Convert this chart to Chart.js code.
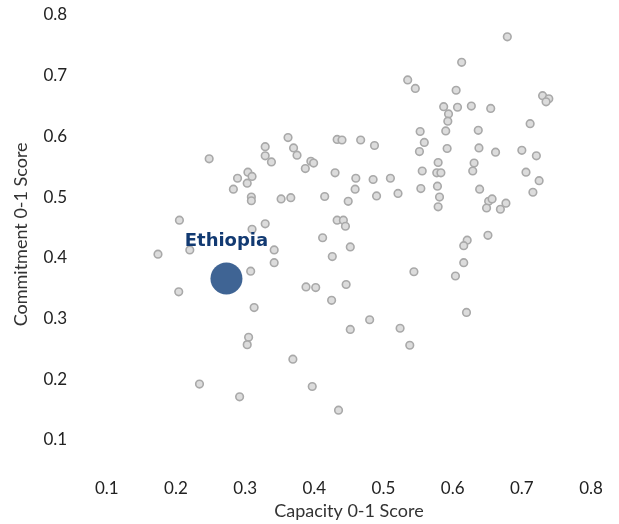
<!DOCTYPE html>
<html>
<head>
<meta charset="utf-8">
<script src="https://cdn.jsdelivr.net/npm/chart.js@4.4.0/dist/chart.umd.min.js"></script>
<style>
  html, body { margin: 0; padding: 0; background: #fff; overflow: hidden; }
  #wrap { position: relative; width: 619px; height: 524px; overflow: hidden; }
  /* the original plot is cropped at the top and right edge */
  #chart { position: absolute; left: 0; top: -45px; }
</style>
</head>
<body>
<div id="wrap"><canvas id="chart" width="660" height="570"></canvas></div>
<script>
// Capacity (x) and commitment (y) scores, one entry per country
var capacity = [
  0.248, 0.329, 0.329, 0.338, 0.362, 0.370, 0.375, 0.387, 0.304, 0.310,
  0.289, 0.303, 0.283, 0.309, 0.309, 0.352, 0.366, 0.205, 0.310, 0.329,
  0.174, 0.220, 0.342, 0.342, 0.308, 0.204, 0.388, 0.313, 0.305, 0.303,
  0.369, 0.234, 0.292, 0.397, 0.426, 0.452, 0.616, 0.544, 0.604, 0.402,
  0.446, 0.425, 0.620, 0.480, 0.452, 0.524, 0.538, 0.435, 0.679, 0.613,
  0.535, 0.546, 0.605, 0.730, 0.739, 0.735, 0.587, 0.607, 0.627, 0.655,
  0.594, 0.593, 0.712, 0.553, 0.590, 0.637, 0.433, 0.440, 0.467, 0.487,
  0.559, 0.552, 0.592, 0.638, 0.662, 0.700, 0.721, 0.395, 0.399, 0.430,
  0.460, 0.459, 0.485, 0.490, 0.510, 0.521, 0.415, 0.449, 0.556, 0.554,
  0.579, 0.577, 0.583, 0.578, 0.581, 0.579, 0.631, 0.629, 0.639, 0.652,
  0.657, 0.649, 0.669, 0.677, 0.706, 0.725, 0.716, 0.433, 0.442, 0.445,
  0.412, 0.621, 0.616, 0.651
];
var commitment = [
  0.563, 0.583, 0.568, 0.558, 0.598, 0.581, 0.569, 0.547, 0.541, 0.534,
  0.531, 0.523, 0.513, 0.500, 0.494, 0.497, 0.499, 0.462, 0.447, 0.456,
  0.406, 0.413, 0.413, 0.392, 0.378, 0.344, 0.352, 0.318, 0.269, 0.257,
  0.233, 0.192, 0.171, 0.188, 0.402, 0.418, 0.392, 0.377, 0.370, 0.351,
  0.356, 0.330, 0.310, 0.298, 0.282, 0.284, 0.256, 0.149, 0.764, 0.722,
  0.693, 0.679, 0.676, 0.667, 0.662, 0.657, 0.649, 0.648, 0.650, 0.646,
  0.637, 0.625, 0.621, 0.608, 0.609, 0.610, 0.595, 0.594, 0.594, 0.585,
  0.590, 0.575, 0.580, 0.581, 0.574, 0.577, 0.568, 0.559, 0.556, 0.540,
  0.531, 0.513, 0.529, 0.502, 0.531, 0.506, 0.501, 0.493, 0.543, 0.514,
  0.557, 0.540, 0.540, 0.518, 0.500, 0.484, 0.556, 0.543, 0.513, 0.493,
  0.497, 0.482, 0.480, 0.490, 0.541, 0.527, 0.508, 0.462, 0.462, 0.452,
  0.433, 0.429, 0.420, 0.437
];

// Highlighted country
var focusName = 'Ethiopia';
var focusCapacity = 0.273;
var focusCommitment = 0.366;

// Tick labels on both axes
var xTicks = [0.1, 0.2, 0.3, 0.4, 0.5, 0.6, 0.7, 0.8];
var yTicks = [0.1, 0.2, 0.3, 0.4, 0.5, 0.6, 0.7, 0.8];

var countryPoints = capacity.map(function(c, i) {
    return { x: c, y: commitment[i] };
});

// Draws the country name above the highlighted point
var focusLabel = {
    id: 'focusLabel',
    afterDatasetsDraw: function(chart) {
        var pt = chart.getDatasetMeta(0).data[0];
        var ctx = chart.ctx;
        ctx.save();
        ctx.font = 'bold 18px "DejaVu Sans"';
        ctx.fillStyle = '#123a72';
        ctx.textAlign = 'center';
        ctx.textBaseline = 'alphabetic';
        ctx.fillText(focusName, pt.x, pt.y - 32);
        ctx.restore();
    }
};

var tickFont = { family: 'Lato', size: 17 };
var titleFont = { family: 'Lato', size: 18 };

new Chart(document.getElementById('chart'), {
    type: 'scatter',
    data: {
        datasets: [
            {
                label: focusName,
                data: [{ x: focusCapacity, y: focusCommitment }],
                backgroundColor: '#3f6494',
                borderWidth: 0,
                pointRadius: 16
            },
            {
                label: 'Countries',
                data: countryPoints,
                backgroundColor: '#dcdcdc',
                borderColor: '#a9a9a9',
                borderWidth: 1.6,
                pointRadius: 3.8
            }
        ]
    },
    options: {
        responsive: false,
        animation: false,
        layout: { padding: { top: 29.6, right: 34.4, left: 0, bottom: 0 } },
        plugins: {
            legend: { display: false },
            tooltip: { enabled: false }
        },
        scales: {
            x: {
                type: 'linear',
                min: 0.05,
                max: 0.85,
                afterBuildTicks: function(s) {
                    s.ticks = xTicks.map(function(v) { return { value: v }; });
                },
                afterFit: function(s) { s.height = 54.7; },
                grid: { display: false, drawTicks: false },
                border: { display: false },
                ticks: {
                    autoSkip: false,
                    maxRotation: 0,
                    padding: 8,
                    color: '#222',
                    font: tickFont,
                    callback: function(v) { return v.toFixed(1); }
                },
                title: {
                    display: true,
                    text: 'Capacity 0-1 Score',
                    color: '#333',
                    font: titleFont,
                    padding: { top: 0, bottom: 3 }
                }
            },
            y: {
                type: 'linear',
                min: 0.05,
                max: 0.85,
                afterBuildTicks: function(s) {
                    s.ticks = yTicks.map(function(v) { return { value: v }; });
                },
                afterFit: function(s) { s.width = 72.2; },
                grid: { display: false, drawTicks: false },
                border: { display: false },
                ticks: {
                    autoSkip: false,
                    padding: 5,
                    color: '#222',
                    font: tickFont,
                    callback: function(v) { return v.toFixed(1); }
                },
                title: {
                    display: true,
                    // trailing spaces nudge the rotated title slightly down
                    text: 'Commitment 0-1 Score   ',
                    color: '#333',
                    font: titleFont,
                    padding: { top: 10, bottom: 0 }
                }
            }
        }
    },
    plugins: [focusLabel]
});
</script>
</body>
</html>
